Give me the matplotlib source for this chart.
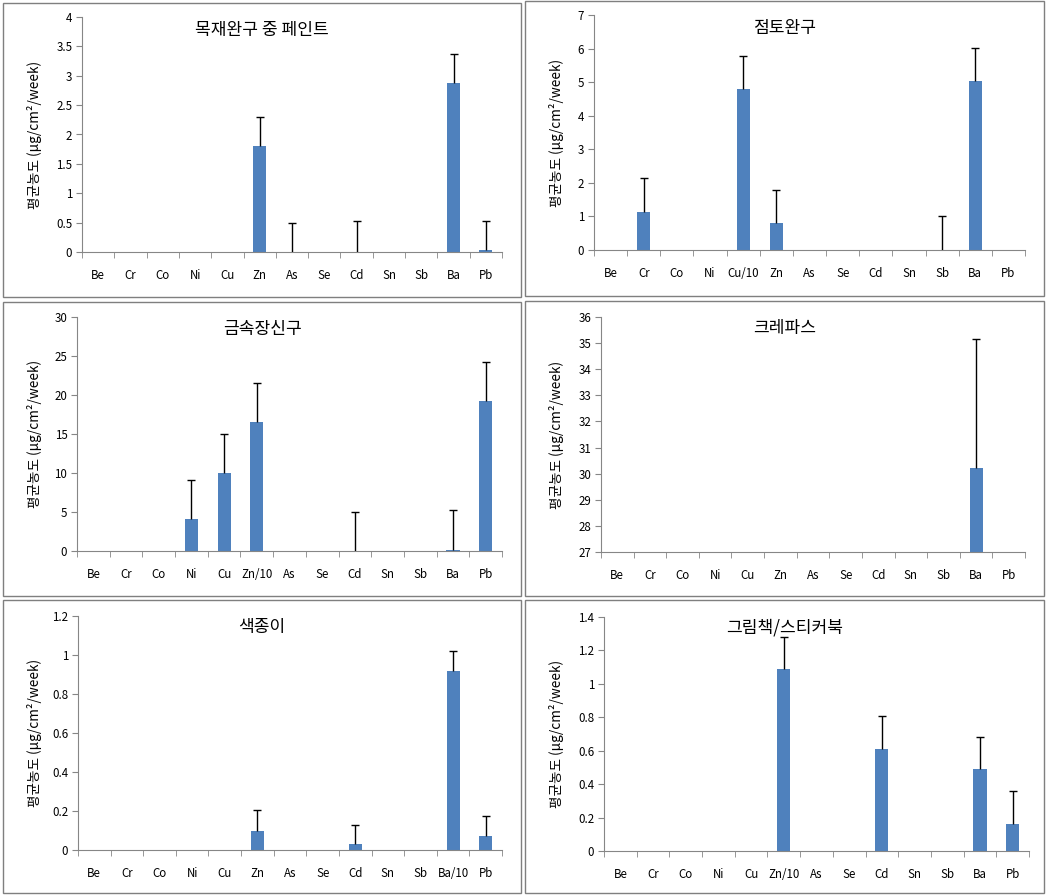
import matplotlib
matplotlib.use("Agg")
import matplotlib.pyplot as plt
from matplotlib.patches import Rectangle
from matplotlib.ticker import FuncFormatter
import numpy as np

plt.rcParams['font.family'] = ['Noto Sans CJK KR', 'DejaVu Sans']

# data for the six panels
titles = ['목재완구 중 페인트', '점토완구', '금속장신구', '크레파스', '색종이', '그림책/스티커북']

labels1 = ['Be', 'Cr', 'Co', 'Ni', 'Cu', 'Zn', 'As', 'Se', 'Cd', 'Sn', 'Sb', 'Ba', 'Pb']
labels2 = ['Be', 'Cr', 'Co', 'Ni', 'Cu/10', 'Zn', 'As', 'Se', 'Cd', 'Sn', 'Sb', 'Ba', 'Pb']
labels3 = ['Be', 'Cr', 'Co', 'Ni', 'Cu', 'Zn/10', 'As', 'Se', 'Cd', 'Sn', 'Sb', 'Ba', 'Pb']
labels4 = ['Be', 'Cr', 'Co', 'Ni', 'Cu', 'Zn', 'As', 'Se', 'Cd', 'Sn', 'Sb', 'Ba', 'Pb']
labels5 = ['Be', 'Cr', 'Co', 'Ni', 'Cu', 'Zn', 'As', 'Se', 'Cd', 'Sn', 'Sb', 'Ba/10', 'Pb']
labels6 = ['Be', 'Cr', 'Co', 'Ni', 'Cu', 'Zn/10', 'As', 'Se', 'Cd', 'Sn', 'Sb', 'Ba', 'Pb']

mean1 = [0, 0, 0, 0, 0, 1.8, 0, 0, 0, 0, 0, 2.88, 0.03]
err1 = [0, 0, 0, 0, 0, 0.5, 0.5, 0, 0.52, 0, 0, 0.49, 0.5]
mean2 = [0, 1.13, 0, 0, 4.8, 0.8, 0, 0, 0, 0, 0, 5.02, 0]
err2 = [0, 1.02, 0, 0, 0.98, 1.0, 0, 0, 0, 0, 1.0, 1.01, 0]
mean3 = [0, 0, 0, 4.1, 10.0, 16.6, 0, 0, 0, 0, 0, 0.1, 19.2]
err3 = [0, 0, 0, 5.0, 5.0, 5.0, 0, 0, 5.0, 0, 0, 5.2, 5.0]
mean4 = [0, 0, 0, 0, 0, 0, 0, 0, 0, 0, 0, 30.2, 0]
err4 = [0, 0, 0, 0, 0, 0, 0, 0, 0, 0, 0, 4.95, 0]
mean5 = [0, 0, 0, 0, 0, 0.1, 0, 0, 0.03, 0, 0, 0.92, 0.07]
err5 = [0, 0, 0, 0, 0, 0.105, 0, 0, 0.1, 0, 0, 0.1, 0.105]
mean6 = [0, 0, 0, 0, 0, 1.09, 0, 0, 0.61, 0, 0, 0.49, 0.16]
err6 = [0, 0, 0, 0, 0, 0.19, 0, 0, 0.2, 0, 0, 0.195, 0.2]

ylims = [(0, 4), (0, 7), (0, 30), (27, 36), (0, 1.2), (0, 1.4)]
ysteps = [0.5, 1, 5, 1, 0.2, 0.2]

W, H = 1047, 896
fig = plt.figure(figsize=(W / 100, H / 100), dpi=100)

# axes rectangles in pixels: left, right, top, bottom
axbox = [(82, 502, 17, 252), (594, 1025, 15, 250),
         (77, 502, 317, 551), (601, 1025, 317, 552),
         (78, 502, 616, 850), (604, 1029, 617, 851)]
# panel frames in pixels
panels = [(3, 521, 3, 297), (525, 1044, 1, 296),
          (3, 521, 302, 596), (525, 1044, 301, 596),
          (3, 521, 600, 893), (525, 1044, 600, 893)]

means = [mean1, mean2, mean3, mean4, mean5, mean6]
errs = [err1, err2, err3, err4, err5, err6]
labels = [labels1, labels2, labels3, labels4, labels5, labels6]

blue = '#4F81BD'
grey = '#868686'

for i in range(6):
    l, r, t, b = panels[i]
    fig.patches.append(Rectangle((l / W, 1 - b / H), (r - l) / W, (b - t) / H,
                                 transform=fig.transFigure, fill=False,
                                 edgecolor='#7f7f7f', linewidth=1.0))
    al, ar, at, ab = axbox[i]
    ax = fig.add_axes([al / W, 1 - ab / H, (ar - al) / W, (ab - at) / H])
    x = np.arange(len(labels[i]))
    m = np.array(means[i])
    e = np.array(errs[i])
    ax.bar(x, m, width=0.4, color=blue, zorder=2)
    has = e > 0
    eb = ax.errorbar(x[has], m[has], yerr=[np.zeros(has.sum()), e[has]], fmt='none',
                     ecolor='black', elinewidth=1.0, capsize=3, capthick=1.0, zorder=3)
    # only the upper cap, like the excel chart
    eb[1][0].set_visible(False)
    lo, hi = ylims[i]
    ax.set_xlim(-0.5, len(labels[i]) - 0.5)
    ax.set_ylim(lo, hi)
    ax.set_yticks(np.arange(lo, hi + ysteps[i] / 2, ysteps[i]))
    ax.yaxis.set_major_formatter(FuncFormatter(lambda v, p: '%g' % round(v, 2)))
    ax.set_xticks(x)
    ax.set_xticklabels(labels[i])
    ax.set_xticks(np.arange(-0.5, len(labels[i]), 1), minor=True)
    ax.tick_params(axis='x', which='major', length=0, pad=12, labelsize=8.3)
    ax.tick_params(axis='x', which='minor', length=4, color=grey, direction='out')
    ax.tick_params(axis='y', length=4, color=grey, labelsize=8.3, pad=3)
    for s in ['top', 'right']:
        ax.spines[s].set_visible(False)
    for s in ['left', 'bottom']:
        ax.spines[s].set_color(grey)
    ax.set_ylabel('평균농도 (μg/cm²/week)', fontsize=9.8)
    ax.yaxis.set_label_coords((l + 39 - al) / (ar - al), 0.5)
    fig.text((l + r) / 2 / W, 1 - (t + 27) / H, titles[i], ha='center', va='center',
             fontsize=12.3)

fig.savefig('out.png', dpi=100)
